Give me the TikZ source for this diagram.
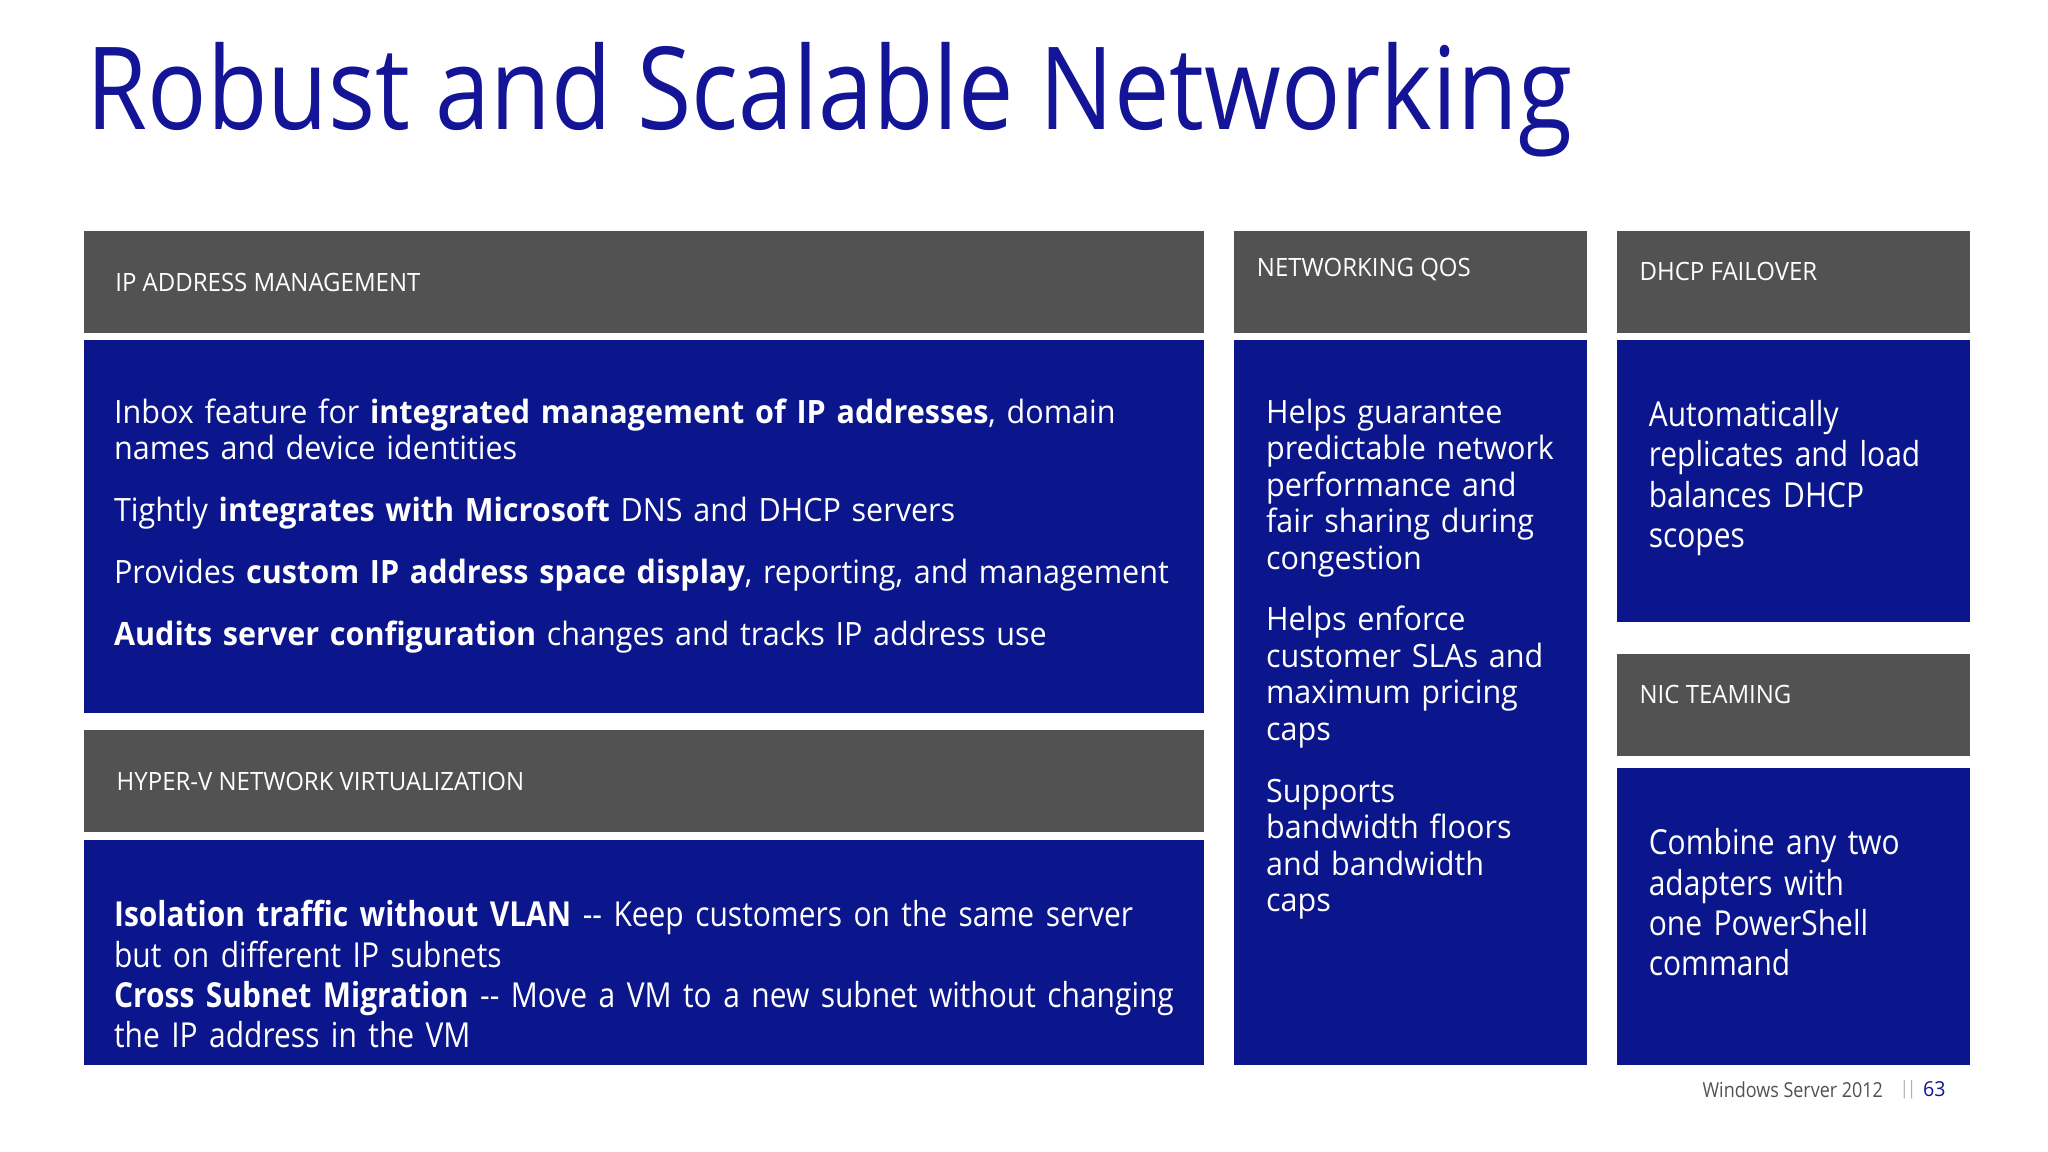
\documentclass[tikz,border=0pt]{standalone}
\usepackage{fontspec}
\setmainfont[FakeStretch=0.95]{Open Sans}
\newfontfamily\cond[FakeStretch=0.87]{Open Sans}
\newfontfamily\titlefont[FakeStretch=0.86]{Open Sans}
\definecolor{hdr}{RGB}{82,82,82}
\definecolor{bodyblue}{RGB}{12,22,140}
\definecolor{titleblue}{RGB}{20,20,150}
\hyphenpenalty=10000
\exhyphenpenalty=10000
\begin{document}
\begin{tikzpicture}[x=0.02cm,y=-0.02cm,
  hbox/.style={fill=hdr,draw=none},
  bbox/.style={fill=bodyblue,draw=none},
  htext/.style={text=white,anchor=west,font=\fontsize{11}{13}\selectfont,inner sep=0},
  btext/.style={text=white,anchor=north west,align=left,inner sep=0,font=\fontsize{14}{15.9}\selectfont},
  ltext/.style={text=white,anchor=north west,align=left,inner sep=0,font=\cond\fontsize{15}{17.6}\selectfont}]
\fill[white] (0,0) rectangle (1568,882);
\node[anchor=west,inner sep=0,text=titleblue,font=\titlefont\fontsize{50}{58}\selectfont] (title) at (66,76) {Robust and Scalable Networking};
% boxes
\fill[hbox] (64,177) rectangle (922,255);
\fill[bbox] (64,260) rectangle (922,546);
\fill[hbox] (64,559) rectangle (922,637);
\fill[bbox] (64,643) rectangle (922,815);
\fill[hbox] (945,177) rectangle (1215,255);
\fill[bbox] (945,260) rectangle (1215,815);
\fill[hbox] (1238,177) rectangle (1508,255);
\fill[bbox] (1238,260) rectangle (1508,476);
\fill[hbox] (1238,501) rectangle (1508,579);
\fill[bbox] (1238,588) rectangle (1508,815);
% headers
\node[htext] (h1) at (88,216) {IP ADDRESS MANAGEMENT};
\node[htext] (h2) at (89,598) {HYPER-V NETWORK VIRTUALIZATION};
\node[htext] (h3) at (962,206) {NETWORKING QOS};
\node[htext] (h4) at (1255,208) {DHCP FAILOVER};
\node[htext] (h5) at (1255,532) {NIC TEAMING};
% bodies
\node[btext,text width=820*0.02cm] (b1) at (87,305) {Inbox feature for \textbf{integrated management of IP addresses}, domain names and device identities\par\vspace{11pt}
Tightly \textbf{integrates with Microsoft} DNS and DHCP servers\par\vspace{11pt}
Provides \textbf{custom IP address space display}, reporting, and management\par\vspace{11pt}
\textbf{Audits server configuration} changes and tracks IP address use};
\node[ltext,text width=815*0.02cm] (b2) at (87,689) {\textbf{Isolation traffic without VLAN} -- Keep customers on the same server but on different IP subnets\\
\textbf{Cross Subnet Migration} -- Move a VM to a new subnet without changing the IP address in the VM};
\node[btext,text width=222*0.02cm] (b3) at (969,305) {Helps guarantee predictable network performance and fair sharing during congestion\par\vspace{11pt}
Helps enforce customer SLAs and maximum pricing caps\par\vspace{11pt}
Supports bandwidth floors and bandwidth caps};
\node[ltext,text width=222*0.02cm] (b4) at (1262,306) {Automatically replicates and load balances DHCP scopes};
\node[ltext,text width=222*0.02cm] (b5) at (1262,634) {Combine any two adapters with one PowerShell command};
\node[anchor=east,inner sep=0,text=hdr,font=\cond\fontsize{9}{10}\selectfont] (foot) at (1442,834) {Windows Server 2012};
\node[anchor=west,inner sep=0,text=gray!60,font=\fontsize{8}{10}\selectfont] (sep) at (1454,834) {\textbar\hspace{-1pt}\textbar};
\node[anchor=west,inner sep=0,text=titleblue,font=\fontsize{9}{10}\selectfont] (pg) at (1472,834) {63};
\end{tikzpicture}
\end{document}
